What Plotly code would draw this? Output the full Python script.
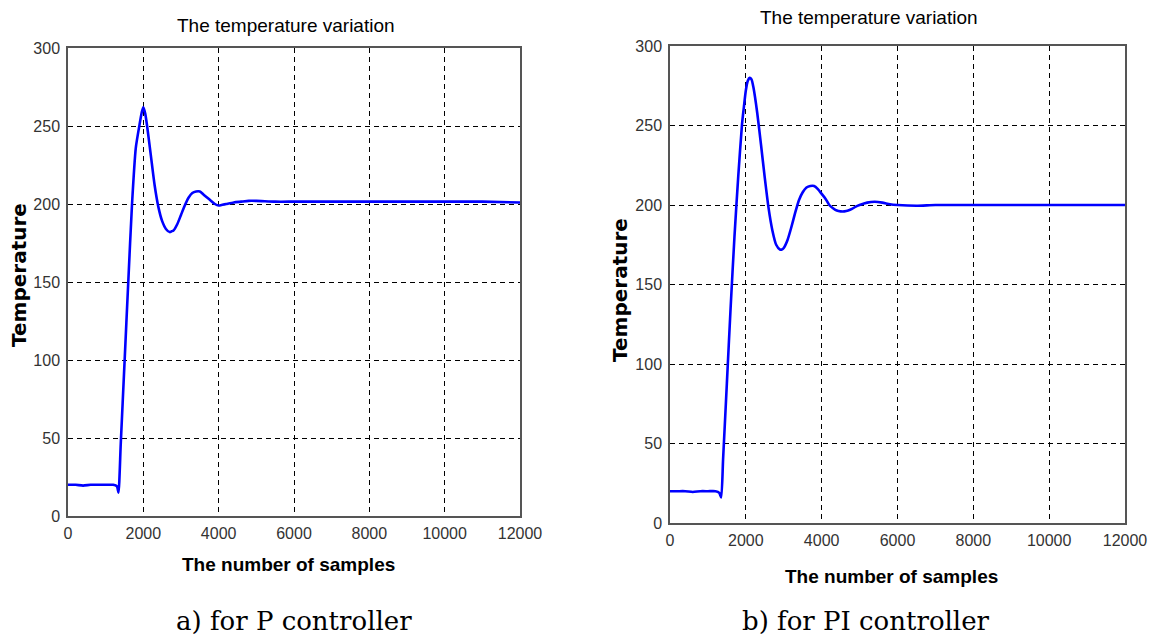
import plotly.graph_objects as go

# ---------------- data ----------------
p_samples = [0, 200, 400, 600, 800, 1000, 1200, 1300, 1340, 1400, 1500, 1600, 1700, 1800,
             1900, 1960, 2000, 2050, 2100, 2200, 2300, 2400, 2500, 2600, 2700, 2750, 2800,
             2900, 3000, 3100, 3200, 3300, 3400, 3500, 3600, 3700, 3800, 3900, 4000, 4100,
             4200, 4400, 4600, 4800, 5000, 5500, 6000, 7000, 8000, 9000, 10000, 11000, 12000]
p_temp = [20, 20, 19.5, 20, 20, 20, 20, 19, 15, 46, 98, 150, 200, 236,
          251, 259, 262, 258, 250, 231, 212, 198, 189, 184, 182, 182.5, 183,
          187, 193, 199, 204, 207, 208, 208, 206, 204, 202, 200, 199, 199.5,
          200, 201, 201.5, 202, 202, 201.5, 201.5, 201.5, 201.5, 201.5, 201.5, 201.5, 201]

pi_samples = [0, 200, 400, 600, 800, 1000, 1200, 1300, 1350, 1400, 1500, 1600, 1700, 1800,
              1900, 1950, 2000, 2050, 2100, 2150, 2200, 2300, 2400, 2500, 2600, 2700, 2800,
              2900, 2950, 3000, 3100, 3200, 3300, 3400, 3500, 3600, 3700, 3800, 3900, 4000,
              4100, 4200, 4300, 4400, 4500, 4600, 4700, 4800, 4900, 5000, 5200, 5400, 5600,
              5800, 6000, 6500, 7000, 8000, 9000, 10000, 11000, 12000]
pi_temp = [20, 20, 20, 19.5, 20, 20, 20, 19, 16, 40, 88, 136, 180, 218,
           251, 262, 272, 278, 280, 279, 274, 258, 238, 217, 198, 184, 175,
           172, 172, 173, 178, 186, 195, 203, 208, 211, 212, 212, 210, 207,
           204, 200, 198, 196.5, 196, 196, 196.5, 197.5, 199, 200, 201.5, 202, 201.5,
           200.5, 200, 199.5, 200, 200, 200, 200, 200, 200]

x_ticks = [0, 2000, 4000, 6000, 8000, 10000, 12000]
x_tick_labels = ["0", "2000", "4000", "6000", "8000", "10000", "12000"]
y_ticks = [0, 50, 100, 150, 200, 250, 300]
y_tick_labels = ["0", "50", "100", "150", "200", "250", "300"]
title_text = "The temperature variation"
x_title = "The number of samples"
y_title = "Temperature"
captions = ["a) for P controller", "b) for PI controller"]

# ---------------- layout ----------------
W, H = 1153, 637

def px_x(v):
    return v / W

def px_y(v):
    return 1 - v / H

fig = go.Figure()
fig.add_trace(go.Scatter(x=p_samples, y=p_temp, mode="lines", xaxis="x", yaxis="y",
                         line=dict(color="#0000ff", width=2.6, shape="spline", smoothing=0.6),
                         hoverinfo="skip", showlegend=False))
fig.add_trace(go.Scatter(x=pi_samples, y=pi_temp, mode="lines", xaxis="x2", yaxis="y2",
                         line=dict(color="#0000ff", width=2.6, shape="spline", smoothing=0.6),
                         hoverinfo="skip", showlegend=False))

tick_font = dict(family="Liberation Sans, Arial", size=16, color="#333333")
axis_common = dict(showline=True, linecolor="#555555", linewidth=1.5, mirror=True,
                   showgrid=True, gridcolor="#000000", gridwidth=1, griddash="5px,4px",
                   zeroline=False, ticks="", tickfont=tick_font, fixedrange=True,
                   automargin=False)

fig.update_layout(
    width=W, height=H,
    margin=dict(l=0, r=0, t=0, b=0, autoexpand=False),
    paper_bgcolor="white", plot_bgcolor="white",
    xaxis=dict(domain=[px_x(68), px_x(520)], range=[0, 12000], tickvals=x_ticks,
               ticktext=x_tick_labels, anchor="y", ticklabelstandoff=2, **axis_common),
    yaxis=dict(domain=[px_y(516), px_y(48)], range=[0, 300], tickvals=y_ticks,
               ticktext=y_tick_labels, anchor="x", ticklabelstandoff=3, **axis_common),
    xaxis2=dict(domain=[px_x(670), px_x(1125)], range=[0, 12000], tickvals=x_ticks,
                ticktext=x_tick_labels, anchor="y2", ticklabelstandoff=2, **axis_common),
    yaxis2=dict(domain=[px_y(523), px_y(46)], range=[0, 300], tickvals=y_ticks,
                ticktext=y_tick_labels, anchor="x2", ticklabelstandoff=3, **axis_common),
)

ann = []
sans = "Liberation Sans, Arial"
# titles
for cx, cy in [(286, 25), (869, 18)]:
    ann.append(dict(text=title_text, x=px_x(cx), y=px_y(cy), xref="paper", yref="paper",
                    showarrow=False, xanchor="center", yanchor="middle",
                    font=dict(family=sans, size=19, color="#000000")))
# x titles
for cx, cy in [(288, 564), (891, 576)]:
    ann.append(dict(text="<b>" + x_title + "</b>", x=px_x(cx), y=px_y(cy), xref="paper", yref="paper",
                    showarrow=False, xanchor="center", yanchor="middle",
                    font=dict(family=sans, size=19, color="#000000")))
# y titles
for cx, cy in [(19, 275), (620, 290)]:
    ann.append(dict(text="<b>" + y_title + "</b>", x=px_x(cx), y=px_y(cy), xref="paper", yref="paper",
                    showarrow=False, xanchor="center", yanchor="middle", textangle=-90,
                    font=dict(family="DejaVu Sans, Arial", size=20, color="#000000")))
# captions
for (cx, cy), cap in zip([(294, 621), (866, 621)], captions):
    ann.append(dict(text=cap, x=px_x(cx), y=px_y(cy), xref="paper", yref="paper",
                    showarrow=False, xanchor="center", yanchor="middle",
                    font=dict(family="DejaVu Serif, Liberation Serif, serif", size=26, color="#000000")))

fig.update_layout(annotations=ann)
fig.write_html("out.html")
